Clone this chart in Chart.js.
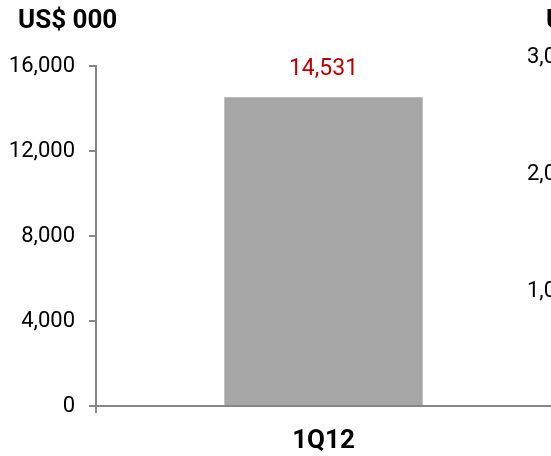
<!DOCTYPE html>
<html>
<head>
<meta charset="utf-8">
<script src="https://cdn.jsdelivr.net/npm/chart.js@4/dist/chart.umd.min.js"></script>
<style>
  html, body { margin: 0; padding: 0; background: #fff; }
  #wrap { width: 551px; height: 456px; position: relative; }
</style>
</head>
<body>
<div id="wrap"><canvas id="revChart" width="551" height="456"></canvas></div>
<script>
// chart data
const categories = ["1Q12"];
const revenue = [14531];
const yTicks = [0, 4000, 8000, 12000, 16000];
const unitLabel = "US$ 000";
// labels of the neighbouring chart that is cut off at the right edge
const nextChartTicks = ["3,000", "2,000", "1,000"];

const FONT = "Roboto, 'Open Sans', sans-serif";
const AXIS_GREY = "#868686";

// draws the unit title, the value label and the cut-off labels
const extraText = {
  id: "extraText",
  afterDraw(chart) {
    const ctx = chart.ctx;
    ctx.save();
    ctx.textBaseline = "middle";

    ctx.fillStyle = "#000";
    ctx.font = "bold 26px " + FONT;
    ctx.textAlign = "left";
    ctx.fillText(unitLabel, 18, 21);
    ctx.fillText(unitLabel, 546, 21);

    ctx.font = "22px " + FONT;
    const rightY = [57, 174, 291];
    nextChartTicks.forEach((t, i) => ctx.fillText(t, 527, rightY[i]));

    const meta = chart.getDatasetMeta(0);
    ctx.fillStyle = "#c00000";
    ctx.font = "23px " + FONT;
    ctx.textAlign = "center";
    meta.data.forEach((bar, i) => {
      ctx.fillText(revenue[i].toLocaleString("en-US"), bar.x, bar.y - 28);
    });
    ctx.restore();
  }
};

new Chart(document.getElementById("revChart"), {
  type: "bar",
  data: {
    labels: categories,
    datasets: [{
      data: revenue,
      backgroundColor: "#a6a6a6",
      borderWidth: 0,
      categoryPercentage: 1,
      barPercentage: 0.436
    }]
  },
  options: {
    responsive: false,
    animation: false,
    layout: { padding: { top: 66, right: 0, left: 0, bottom: 0 } },
    plugins: { legend: { display: false }, tooltip: { enabled: false } },
    scales: {
      x: {
        grid: {
          offset: true,
          drawOnChartArea: false,
          // only the left edge tick is visible, the right one is off the picture
          color: c => c.type === "tick" ? AXIS_GREY : "rgba(0,0,0,0)",
          lineWidth: 2,
          tickLength: 7
        },
        border: { color: AXIS_GREY, width: 2 },
        ticks: {
          color: "#000",
          font: { family: FONT, size: 26, weight: "bold" },
          padding: 13
        },
        afterFit(scale) { scale.height = 50; }
      },
      y: {
        min: 0,
        max: 16000,
        afterBuildTicks(scale) { scale.ticks = yTicks.map(v => ({ value: v })); },
        grid: {
          drawOnChartArea: false,
          color: AXIS_GREY,
          lineWidth: 2,
          tickLength: 7
        },
        border: { color: AXIS_GREY, width: 2 },
        ticks: {
          color: "#000",
          font: { family: FONT, size: 22 },
          padding: 14,
          callback: v => v.toLocaleString("en-US")
        },
        afterFit(scale) { scale.width = 96; }
      }
    }
  },
  plugins: [extraText]
});
</script>
</body>
</html>
